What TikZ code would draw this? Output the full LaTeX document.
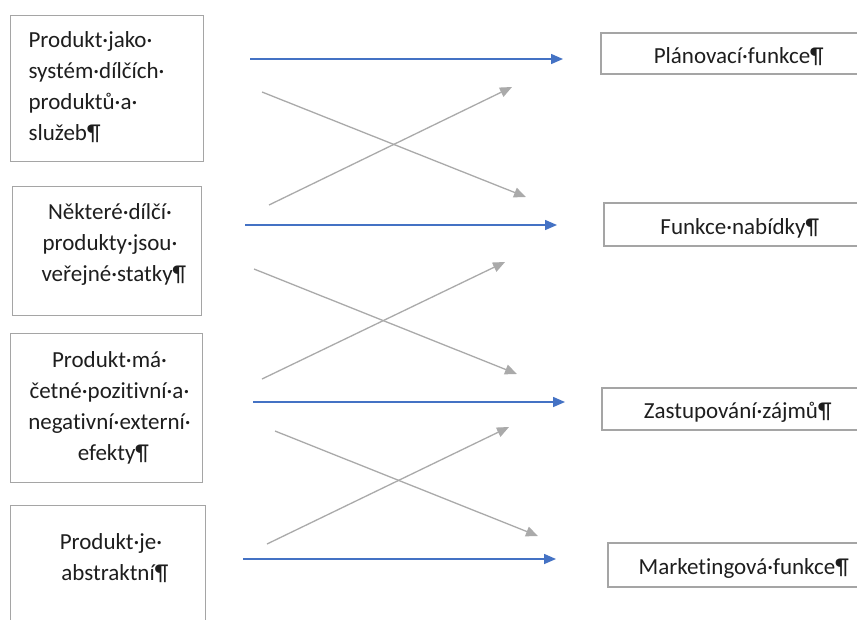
\documentclass[tikz,border=0pt]{standalone}
\usepackage{fontspec}
\setmainfont{Carlito}[Ligatures=NoCommon]
\usetikzlibrary{arrows.meta}
\definecolor{framegray}{RGB}{165,165,165}
\definecolor{linkgray}{RGB}{170,170,170}
\definecolor{linkblue}{RGB}{68,114,196}
\definecolor{inkcol}{RGB}{30,30,30}
% put the first baseline #1 below the top of a text box
\newcommand{\firstbase}[1]{\vspace*{\dimexpr #1pt-17pt\relax}\rule{0pt}{17pt}}
\begin{document}
\begin{tikzpicture}[x=1pt,y=-1pt,
  lbox/.style={draw=framegray,line width=1.2pt,inner sep=0pt,anchor=north west,
    font=\fontsize{23}{31}\selectfont,text=inkcol},
  rbox/.style={draw=framegray,line width=1.2pt,inner sep=0pt,
    font=\fontsize{23}{31}\selectfont,text=inkcol,text height=20pt,text depth=1pt},
  flow/.style={line width=1.5pt,draw=linkblue,-{Triangle[length=12pt,width=10pt]}},
  cross/.style={line width=1.3pt,draw=linkgray,-{Triangle[length=12pt,width=10pt]}}]

\fill[white] (0,0) rectangle (857,619);
\clip (0,0) rectangle (857,619);

% properties of the product (left column)
\node[lbox] (p1) at (10,15) {\parbox[c][146pt][t]{193pt}{\raggedright\leftskip=18pt
  \firstbase{31.7}Produkt·jako·\\systém·dílčích·\\produktů·a·\\služeb¶}};
\node[lbox] (p2) at (12,186) {\parbox[c][129pt][t]{189pt}{\centering
  \firstbase{33}Některé·dílčí\rlap{·}\\produkty·jsou\rlap{·}\\veřejné·statky\rlap{¶}}};
\node[lbox] (p3) at (10,333) {\parbox[c][149pt][t]{192pt}{\centering
  \firstbase{33.7}Produkt·má\rlap{·}\\četné·pozitivní·a\rlap{·}\\negativní·externí\rlap{·}\\efekty\rlap{¶}}};
\node[lbox] (p4) at (10,505) {\parbox[c][150pt][t]{195pt}{\centering
  \firstbase{44.3}Produkt·je\rlap{·}\\abstraktní\rlap{¶}}};

% functions (right column)
\node[rbox,minimum width=262pt,minimum height=41pt] (f1) at (732,53.5) {Plánovací·funkce\rlap{¶}};
\node[rbox,minimum width=258pt,minimum height=43pt] (f2) at (733,224.5) {Funkce·nabídky\rlap{¶}};
\node[rbox,minimum width=258pt,minimum height=42pt] (f3) at (731,409) {Zastupování·zájmů\rlap{¶}};
\node[rbox,minimum width=258pt,minimum height=44pt] (f4) at (737,565) {Marketingová·funkce\rlap{¶}};

% arrow end points
\coordinate (b1s) at (250,59);  \coordinate (b1e) at (563,59);
\coordinate (b2s) at (245,225); \coordinate (b2e) at (557,225);
\coordinate (b3s) at (253,402); \coordinate (b3e) at (565,402);
\coordinate (b4s) at (243,559); \coordinate (b4e) at (556,559);
\coordinate (d1s) at (262,92);  \coordinate (d1e) at (526,197);
\coordinate (u1s) at (269,205); \coordinate (u1e) at (512,87);
\coordinate (d2s) at (254,269); \coordinate (d2e) at (517,374);
\coordinate (u2s) at (262,379); \coordinate (u2e) at (505,262);
\coordinate (d3s) at (275,431); \coordinate (d3e) at (538,536);
\coordinate (u3s) at (267,544); \coordinate (u3e) at (509,427);

% straight links
\draw[flow] (b1s) -- (b1e);
\draw[flow] (b2s) -- (b2e);
\draw[flow] (b3s) -- (b3e);
\draw[flow] (b4s) -- (b4e);

% crossing links
\draw[cross] (d1s) -- (d1e);
\draw[cross] (u1s) -- (u1e);
\draw[cross] (d2s) -- (d2e);
\draw[cross] (u2s) -- (u2e);
\draw[cross] (d3s) -- (d3e);
\draw[cross] (u3s) -- (u3e);
\end{tikzpicture}
\end{document}
